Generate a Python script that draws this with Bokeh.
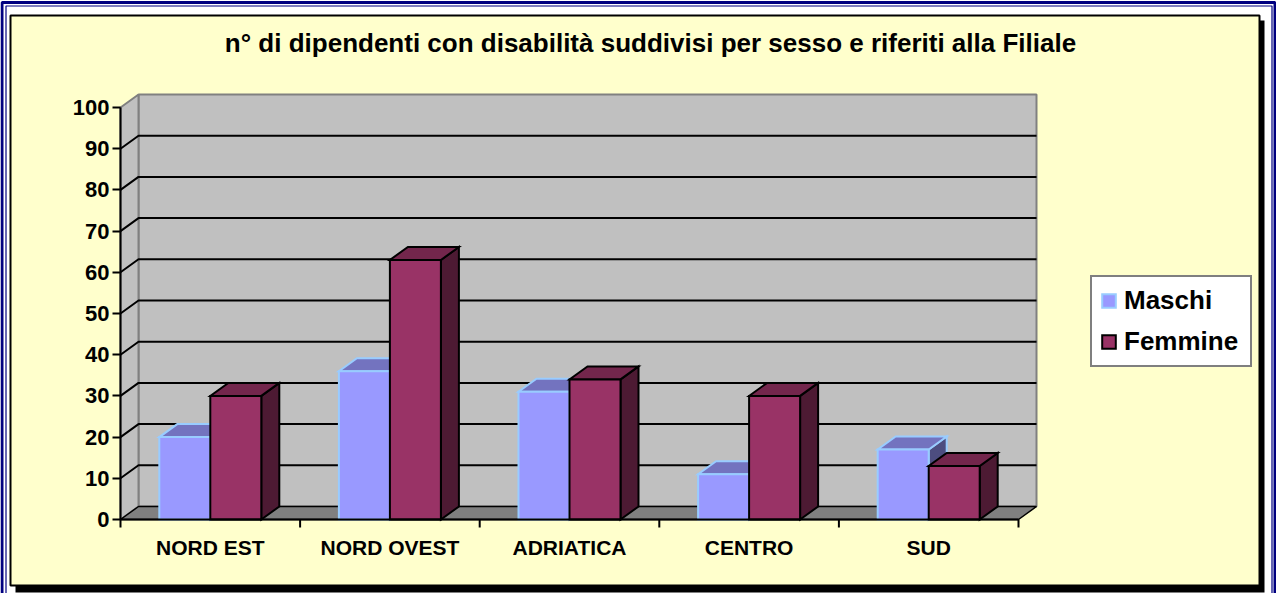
from bokeh.plotting import figure
from bokeh.models import (Range1d, LinearAxis, FixedTicker, Legend, LegendItem,
                          Label, ColumnDataSource)
from bokeh.embed import file_html
from bokeh.resources import INLINE

# ---------------- data ----------------
title_text = "n° di dipendenti con disabilità suddivisi per sesso e riferiti alla Filiale"
categories = ["NORD EST", "NORD OVEST", "ADRIATICA", "CENTRO", "SUD"]
series_names = ["Maschi", "Femmine"]
maschi = [20, 36, 31, 11, 17]
femmine = [30, 63, 34, 30, 13]
y_ticks = [0, 10, 20, 30, 40, 50, 60, 70, 80, 90, 100]

# ---------------- layout (reference pixel geometry) ----------------
W, H = 1276, 593
PAGE = 8
X0_PX, CAT_PX = 128.0, 179.6     # left edge of category axis, px per category
Y0_PX, UNIT_PX = 527.0, 4.12     # value 0 baseline, px per unit


def X(px):
    return (px - X0_PX) / CAT_PX - 0.5


def Y(py):
    return (Y0_PX - py) / UNIT_PX


DX = 18.0 / CAT_PX      # 3D depth offset (x)
DY = 13.0 / UNIT_PX     # 3D depth offset (y)
BAR_W = 51.0 / CAT_PX
TICK_LEN = 8.0 / UNIT_PX
N = len(categories)
XL, XR = -0.5, N - 0.5
YMAX = y_ticks[-1]

FONT = "Liberation Sans"

p = figure(width=W, height=H, x_range=Range1d(X(PAGE), X(PAGE + W)),
           y_range=Range1d(Y(PAGE + H), Y(PAGE)), output_backend="svg",
           toolbar_location=None, min_border=0, x_axis_type=None, y_axis_type=None)
p.outline_line_color = None
p.background_fill_color = "white"
p.border_fill_color = "white"

# outer double blue frame
p.multi_line(xs=[[X(9.5), X(9.5), X(1282.5), X(1282.5)],
                 [X(13.5), X(13.5), X(1279.5), X(1279.5)]],
             ys=[[Y(640), Y(10), Y(10), Y(640)],
                 [Y(640), Y(13.5), Y(13.5), Y(640)]],
             line_color="#000080", line_width=[3, 1.2])

# chart area with shadow
p.quad(left=X(23), right=X(1272), top=Y(28), bottom=Y(600), fill_color="black", line_color=None)
p.quad(left=X(18), right=X(1267), top=Y(23), bottom=Y(593), fill_color="#FFFFCC",
       line_color="black", line_width=2)

# back wall
p.quad(left=XL + DX, right=XR + DX, bottom=DY, top=YMAX + DY,
       fill_color="#C0C0C0", line_color="#808080", line_width=2)
# side wall
p.patch([XL, XL + DX, XL + DX, XL], [0, DY, YMAX + DY, YMAX],
        fill_color="#C0C0C0", line_color="#808080", line_width=2)
# floor
p.patch([XL, XR, XR + DX, XL + DX], [0, 0, DY, DY],
        fill_color="#808080", line_color="black", line_width=1.5)

# gridlines (back wall + side wall)
gx, gy = [], []
for v in y_ticks[1:-1]:
    gx.append([XL, XL + DX, XR + DX])
    gy.append([v, v + DY, v + DY])
p.multi_line(xs=gx, ys=gy, line_color="black", line_width=2)

# bars
front_renderers = []
styles = [
    dict(front="#9999FF", top="#7373BF", side="#4D4D80", edge="#99CCFF"),
    dict(front="#993366", top="#73264C", side="#4D1A33", edge="black"),
]
for s, vals in enumerate([maschi, femmine]):
    st = styles[s]
    x0 = [i - BAR_W + s * BAR_W for i in range(N)]
    x1 = [a + BAR_W for a in x0]
    side_src = ColumnDataSource(dict(
        xs=[[b, b + DX, b + DX, b] for b in x1],
        ys=[[0, DY, v + DY, v] for v in vals]))
    top_src = ColumnDataSource(dict(
        xs=[[a, b, b + DX, a + DX] for a, b in zip(x0, x1)],
        ys=[[v, v, v + DY, v + DY] for v in vals]))
    front_src = ColumnDataSource(dict(left=x0, right=x1, top=vals, bottom=[0] * N))
    p.patches("xs", "ys", source=side_src, fill_color=st["side"], line_color=st["edge"],
              line_width=2, line_join="miter")
    p.patches("xs", "ys", source=top_src, fill_color=st["top"], line_color=st["edge"],
              line_width=2, line_join="miter")
    r = p.quad(left="left", right="right", top="top", bottom="bottom", source=front_src,
               fill_color=st["front"], line_color=st["edge"], line_width=2, line_join="miter")
    front_renderers.append(r)

# y axis
yaxis = LinearAxis(fixed_location=XL, bounds=(0, YMAX), ticker=FixedTicker(ticks=y_ticks),
                   major_tick_out=8, major_tick_in=0, minor_tick_out=0, minor_tick_in=0,
                   axis_line_width=2, major_tick_line_width=2,
                   major_label_text_font=FONT, major_label_text_font_size="22px",
                   major_label_text_font_style="bold", major_label_text_color="black",
                   major_label_standoff=3)
p.add_layout(yaxis, "left")

# x axis: category labels at centers, axis line along the floor front edge
xaxis = LinearAxis(fixed_location=0, bounds=(XL, XR), ticker=FixedTicker(ticks=list(range(N))),
                   major_label_overrides={i: c for i, c in enumerate(categories)},
                   major_tick_out=0, major_tick_in=0, minor_tick_out=0, minor_tick_in=0,
                   axis_line_width=2, major_label_standoff=16,
                   major_label_text_font=FONT, major_label_text_font_size="21px",
                   major_label_text_font_style="bold", major_label_text_color="black")
p.add_layout(xaxis, "below")
# tick marks at category boundaries
bounds_x = [i - 0.5 for i in range(N + 1)]
p.segment(x0=bounds_x, y0=[0] * (N + 1), x1=bounds_x, y1=[-TICK_LEN] * (N + 1),
          line_color="black", line_width=2)

# title
p.add_layout(Label(x=X(658), y=Y(50), text=title_text, text_align="center",
                   text_baseline="middle", text_font=FONT, text_font_size="26px",
                   text_font_style="bold", text_color="black"))

# legend
legend = Legend(items=[LegendItem(label=n, renderers=[r]) for n, r in zip(series_names, front_renderers)],
                location=(1090, H - 367), orientation="vertical",
                glyph_width=17, glyph_height=17, label_standoff=7, label_width=118,
                label_height=28, spacing=10, padding=8, margin=0,
                label_text_font=FONT, label_text_font_size="26px", label_text_font_style="bold",
                label_text_color="black", border_line_color="black", border_line_width=2,
                background_fill_color="white", background_fill_alpha=1)
p.add_layout(legend, "center")

open("out.html", "w").write(file_html(p, INLINE))
